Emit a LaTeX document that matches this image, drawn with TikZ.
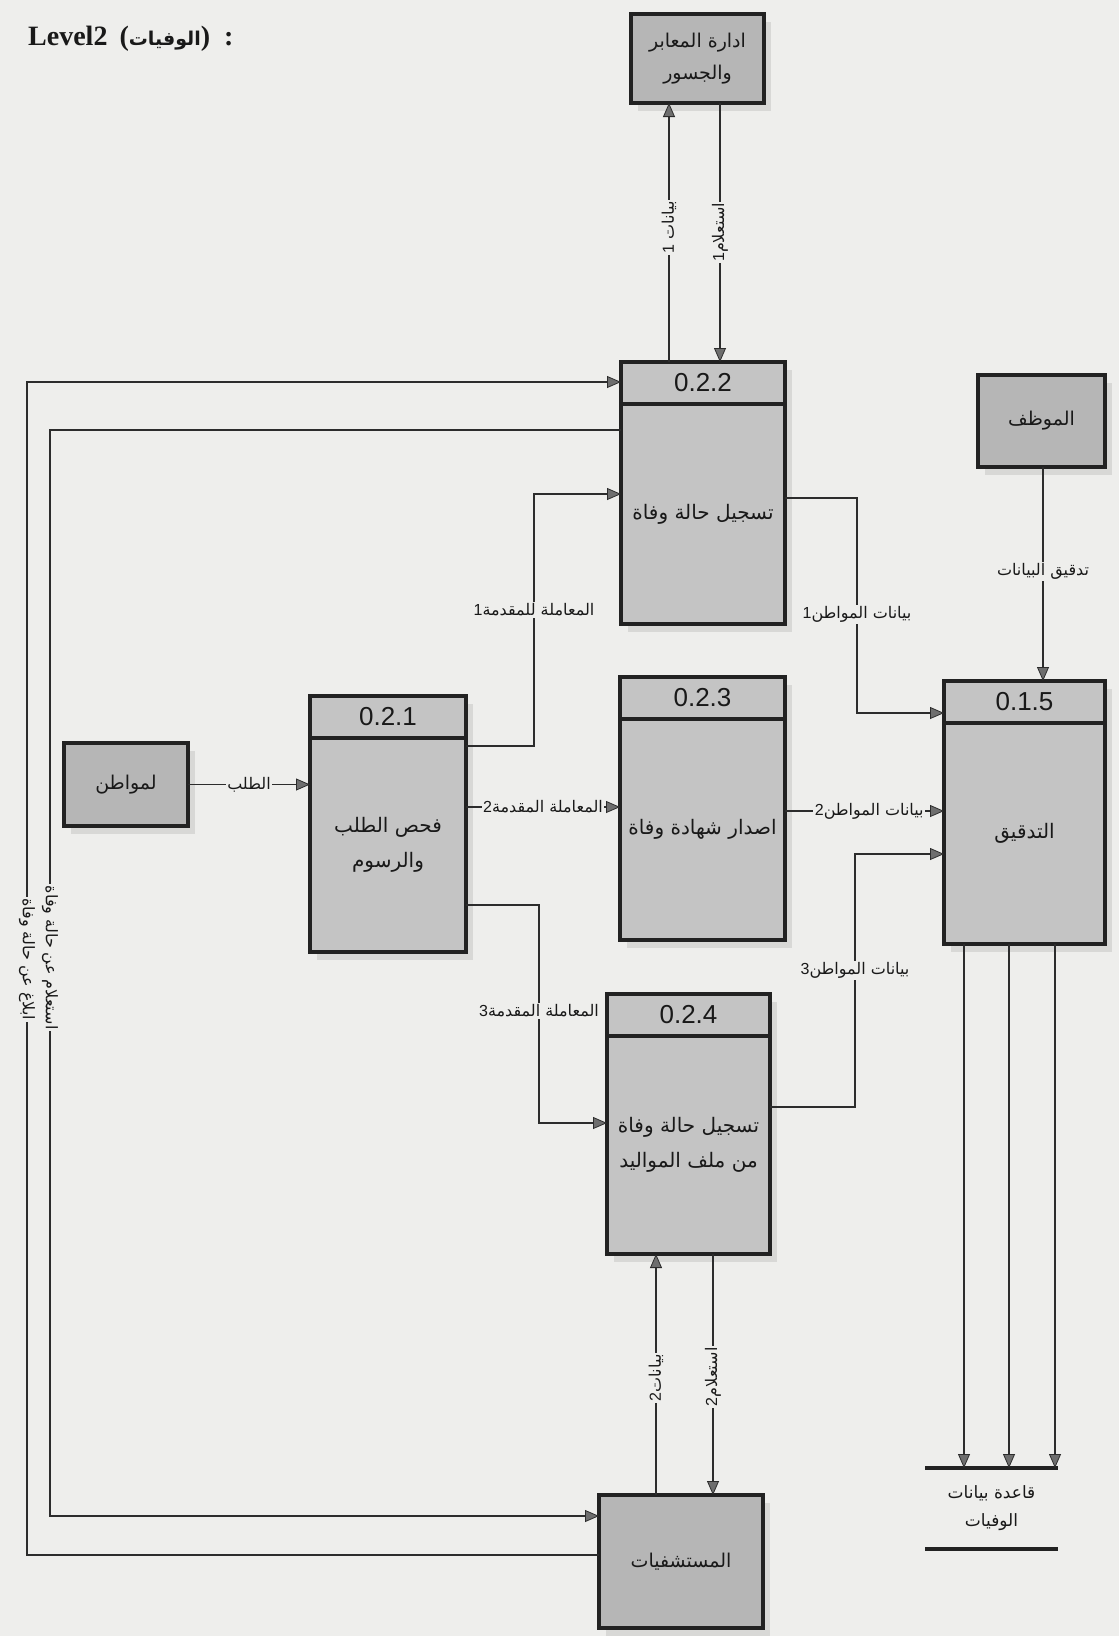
\documentclass[tikz,border=0pt]{standalone}
\usepackage{fontspec}
\setmainfont{Liberation Sans}
\newfontfamily\arabicfont[Script=Arabic]{DejaVu Sans}
\newfontfamily\titlefont{Liberation Serif}
\TeXXeTstate=1
\usetikzlibrary{calc,arrows.meta,shadows}
\newcommand{\artxt}[1]{{\arabicfont\beginR #1\endR}}
\definecolor{bg}{HTML}{EEEEEC}
\definecolor{boxfill}{HTML}{C4C4C4}
\definecolor{entfill}{HTML}{B6B6B6}
\definecolor{edge}{HTML}{222222}
\definecolor{linecol}{HTML}{2C2C2C}
\definecolor{tipfill}{HTML}{6E6E6E}
\definecolor{shadowcol}{HTML}{D8D8D6}
\tikzset{
 every node/.style={text=black!90},
 boxshadow/.style={drop shadow={shadow xshift=7pt, shadow yshift=-8pt, fill=shadowcol, opacity=1}},
 proc/.style={draw=edge, line width=3.5pt, fill=boxfill, inner sep=0pt, outer sep=0pt, boxshadow},
 entity/.style={draw=edge, line width=4.5pt, fill=entfill, inner sep=0pt, outer sep=0pt, align=center, font=\arabicfont\fontsize{19}{32}\selectfont, boxshadow},
 divider/.style={draw=edge, line width=3.5pt},
 numtxt/.style={font=\fontsize{26}{28}\selectfont, inner sep=0pt},
 bodytxt/.style={font=\arabicfont\fontsize{20}{35}\selectfont, align=center, inner sep=0pt},
 flow/.style={draw=linecol, line width=1.3pt, -{Triangle[length=14pt,width=12pt,fill=tipfill,color=linecol,line width=0.8pt]}},
 lbl/.style={font=\fontsize{16}{18}\selectfont, fill=bg, inner sep=1.5pt},
 store/.style={draw=edge, line width=3.5pt},
}
\newcommand{\procbox}[7]{%
 \node[proc, minimum width=#4pt, minimum height=#5pt, anchor=north west] (#1) at (#2,#3) {};
 \draw[divider] ($(#1.north west)+(0,42)$) -- ($(#1.north east)+(0,42)$);
 \node[numtxt] (#1num) at ($(#1.north)+(0,21)$) {#6};
 \node[bodytxt] (#1txt) at ($(#1.north)+(0,{21+#5/2})$) {#7};
}
\begin{document}
\begin{tikzpicture}[x=1pt,y=-1pt]
\useasboundingbox (0,0) rectangle (1119,1636);
\fill[bg] (0,0) rectangle (1119,1636);

% title
\node[anchor=base west, inner sep=0pt, font=\titlefont\bfseries\fontsize{28}{30}\selectfont] (title) at (28,45) {Level2\hspace{12pt}({\fontsize{19}{20}\selectfont\artxt{الوفيات}})\hspace{14pt}:};

% entities
\node[entity, minimum width=133pt, minimum height=89pt, anchor=north west] (eMaabir) at (631,14) {\artxt{ادارة المعابر}\\\artxt{والجسور}};
\node[entity, minimum width=127pt, minimum height=92pt, anchor=north west] (eMuwazzaf) at (978,375) {\artxt{الموظف}};
\node[entity, minimum width=124pt, minimum height=83pt, anchor=north west] (eMuwatin) at (64,743) {\artxt{لمواطن}};
\node[entity, minimum width=164pt, minimum height=133pt, anchor=north west] (eHosp) at (599,1495) {\artxt{المستشفيات}};

% processes
\procbox{p022}{621}{362}{164}{262}{0.2.2}{\artxt{تسجيل حالة وفاة}}
\procbox{p023}{620}{677}{165}{263}{0.2.3}{\artxt{اصدار شهادة وفاة}}
\procbox{p015}{944}{681}{161}{263}{0.1.5}{\artxt{التدقيق}}
\procbox{p021}{310}{696}{156}{256}{0.2.1}{\artxt{فحص الطلب}\\\artxt{والرسوم}}
\procbox{p024}{607}{994}{163}{260}{0.2.4}{\artxt{تسجيل حالة وفاة}\\\artxt{من ملف المواليد}}

% data store
\node[minimum width=133pt, minimum height=81pt, inner sep=0pt, outer sep=0pt, anchor=north west, align=center, font=\arabicfont\fontsize{17}{28}\selectfont] (ds) at (925,1468) {\artxt{قاعدة بيانات}\\\artxt{الوفيات}};
\draw[store] (ds.north west) -- (ds.north east);
\draw[store] (ds.south west) -- (ds.south east);

% flows
\draw[flow] ($(p022.north west)+(48,0)$) -- node[lbl, rotate=90, pos=0.52]{1 \artxt{بيانات}} ($(eMaabir.south west)+(38,0)$);
\draw[flow] ($(eMaabir.south west)+(89,0)$) -- node[lbl, rotate=90, pos=0.5]{1\artxt{استعلام}} ($(p022.north west)+(99,0)$);
\draw[flow] ($(eMuwazzaf.south west)+(65,0)$) -- node[lbl, pos=0.49]{\artxt{تدقيق البيانات}} ($(p015.north west)+(99,0)$);
\draw[flow] (eMuwatin.east) -- node[lbl]{\artxt{الطلب}} (eMuwatin.east -| p021.west);
\draw[flow] ($(p021.north east)+(0,50)$) -| node[lbl, pos=0.77]{1\artxt{المعاملة للمقدمة}} ($(p022.north west)+(-87,132)$) -- ($(p022.north west)+(0,132)$);
\draw[flow] ($(p021.north east)+(0,111)$) -- node[lbl, pos=0.5]{2\artxt{المعاملة المقدمة}} ($(p023.north west)+(0,130)$);
\draw[flow] ($(p021.north east)+(0,209)$) -| node[lbl, pos=0.743]{3\artxt{المعاملة المقدمة}} ($(p024.north west)+(-68,129)$) -- ($(p024.north west)+(0,129)$);
\draw[flow] ($(p022.north east)+(0,136)$) -| node[lbl, pos=0.77]{1\artxt{بيانات المواطن}} ($(p015.north west)+(-87,32)$) -- ($(p015.north west)+(0,32)$);
\draw[flow] ($(p023.north east)+(0,134)$) -- node[lbl, pos=0.53]{2\artxt{بيانات المواطن}} ($(p015.north west)+(0,130)$);
\draw[flow] ($(p024.north east)+(0,113)$) -| node[lbl, pos=0.77]{3\artxt{بيانات المواطن}} ($(p015.north west)+(-89,173)$) -- ($(p015.north west)+(0,173)$);
\draw[flow] ($(p015.south west)+(20,0)$) -- ($(ds.north west)+(39,0)$);
\draw[flow] ($(p015.south west)+(65,0)$) -- ($(ds.north west)+(84,0)$);
\draw[flow] ($(p015.south west)+(111,0)$) -- ($(ds.north west)+(130,0)$);
\draw[flow] ($(eHosp.north west)+(57,0)$) -- node[lbl, rotate=90, pos=0.485]{2\artxt{بيانات}} ($(p024.south west)+(49,0)$);
\draw[flow] ($(p024.south west)+(106,0)$) -- node[lbl, rotate=90, pos=0.51]{2\artxt{استعلام}} ($(eHosp.north west)+(114,0)$);
\draw[flow] ($(eHosp.north west)+(0,60)$) -| node[lbl, rotate=-90, pos=0.754]{\artxt{ابلاغ عن حالة وفاة}} ($(p022.north west)+(-594,20)$) -- ($(p022.north west)+(0,20)$);
\draw[flow] ($(p022.north west)+(0,68)$) -| node[lbl, rotate=-90, pos=0.743]{\artxt{استعلام عن حالة وفاة}} ($(eHosp.north west)+(-549,21)$) -- ($(eHosp.north west)+(0,21)$);
\end{tikzpicture}
\end{document}
